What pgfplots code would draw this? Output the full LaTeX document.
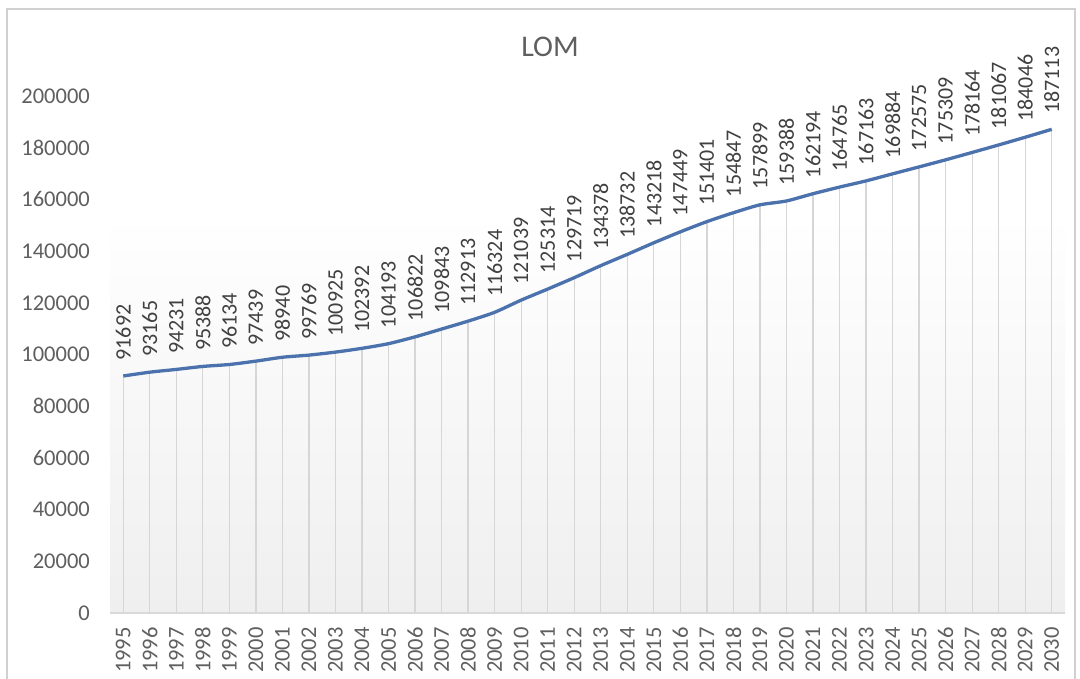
\documentclass[border=0pt]{standalone}
\usepackage{fontspec}
\setmainfont{Carlito}
\usepackage{pgfplots}
\pgfplotsset{compat=1.18}
\usepackage{pgfplotstable}

\pgfplotstableread{
year value label
1995 91692 91692
1996 93165 93165
1997 94231 94231
1998 95388 95388
1999 96134 96134
2000 97439 97439
2001 98940 98940
2002 99769 99769
2003 100925 100925
2004 102392 102392
2005 104193 104193
2006 106822 106822
2007 109843 109843
2008 112913 112913
2009 116324 116324
2010 121039 121039
2011 125314 125314
2012 129719 129719
2013 134378 134378
2014 138732 138732
2015 143218 143218
2016 147449 147449
2017 151401 151401
2018 154847 154847
2019 157899 157899
2020 159388 159388
2021 162194 162194
2022 164765 164765
2023 167163 167163
2024 169884 169884
2025 172575 172575
2026 175309 175309
2027 178164 178164
2028 181067 181067
2029 184046 184046
2030 187113 187113
}\lomdata

\definecolor{lomblue}{HTML}{4B72AD}
\definecolor{txt}{HTML}{5F5F5F}
\definecolor{lbl}{HTML}{404040}
\definecolor{dropc}{HTML}{D6D6D6}
\definecolor{framec}{HTML}{D0D0D0}
\definecolor{axisc}{HTML}{D9D9D9}
\definecolor{bgbot}{HTML}{EFEFEF}

\begin{document}
\begin{tikzpicture}[x=1pt,y=1pt]
\useasboundingbox (0,0) rectangle (1080,-679);
\fill[white] (0,0) rectangle (1080,-679);
\draw[framec, line width=1.5pt] (7,-700) -- (7,-9) -- (1075,-9) -- (1075,-700);
\shade[top color=white, bottom color=bgbot] (110,-213) rectangle (1065,-613);
\node[font=\fontsize{30}{34}\selectfont, text=txt] at (550,-47) {LOM};
\begin{axis}[
  at={(110pt,-613pt)}, anchor=south west,
  scale only axis, width=955pt, height=517pt,
  xmin=1994.5, xmax=2030.5, ymin=0, ymax=200000,
  clip=false,
  axis x line*=bottom, axis y line*=left,
  x axis line style={draw=axisc, line width=1.2pt, -},
  y axis line style={draw=none},
  major tick length=0pt,
  tick style={draw=none},
  xtick={1995,1996,...,2030},
  ytick={0,20000,...,200000},
  scaled y ticks=false,
  /pgf/number format/assume math mode=true,
  xticklabel={\pgfmathprintnumber[1000 sep={},fixed,precision=0]{\tick}},
  yticklabel={\pgfmathprintnumber[1000 sep={},fixed,precision=0]{\tick}},
  xticklabel style={rotate=90, anchor=east, inner sep=0pt, font=\fontsize{22.5}{25}\selectfont, text=txt},
  yticklabel style={anchor=east, inner sep=0pt, font=\fontsize{22.5}{25}\selectfont, text=txt},
  xticklabel shift=14pt,
  yticklabel shift=20pt,
]
\addplot[ycomb, dropc, line width=1.3pt, mark=none] table[x=year, y=value] \lomdata;
\addplot[lomblue, line width=3.3pt, mark=none, smooth, tension=0.4,
  nodes near coords, point meta=explicit symbolic,
  nodes near coords style={rotate=90, anchor=west, inner ysep=0pt, inner xsep=14pt,
    font=\fontsize{22}{25}\selectfont, text=lbl}]
  table[x=year, y=value, meta=label] \lomdata;
\end{axis}
\end{tikzpicture}
\end{document}
